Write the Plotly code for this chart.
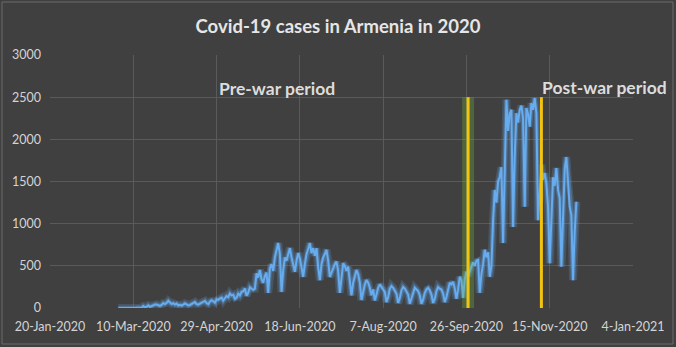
import datetime as dt
import plotly.graph_objects as go

# Daily new COVID-19 cases in Armenia, 1 Mar – 1 Dec 2020
start_date = dt.date(2020, 3, 1)

cases_mar = [1, 0, 0, 0, 0, 0, 0, 0, 0, 0, 0, 2, 5, 4, 3, 22, 8, 14, 32, 12,
             24, 30, 41, 42, 29, 25, 36, 58, 47, 60, 85]
cases_apr = [62, 48, 57, 40, 52, 30, 38, 29, 41, 55, 44, 30, 36, 50, 62, 70,
             46, 40, 52, 66, 72, 84, 58, 46, 76, 92, 80, 64, 104, 96]
cases_may = [112, 124, 88, 114, 142, 128, 172, 150, 158, 108, 124, 170, 148,
             192, 198, 232, 146, 182, 246, 228, 216, 230, 410, 360, 450, 340,
             300, 380, 420, 180, 470]
cases_jun = [520, 440, 600, 680, 770, 640, 190, 450, 600, 560, 640, 710, 600,
             530, 430, 560, 650, 590, 450, 370, 520, 640, 700, 770, 650, 710,
             620, 710, 480, 330]
cases_jul = [520, 600, 640, 690, 560, 370, 420, 480, 520, 550, 440, 180, 360,
             530, 500, 440, 490, 320, 150, 300, 380, 450, 400, 300, 95, 200,
             280, 330, 300, 240, 150]
cases_aug = [220, 90, 160, 240, 280, 250, 230, 190, 70, 130, 230, 260, 240,
             210, 170, 60, 120, 210, 250, 230, 200, 160, 50, 110, 190, 240,
             220, 200, 150, 50, 100]
cases_sep = [180, 220, 240, 210, 160, 60, 110, 200, 250, 230, 220, 170, 70,
             130, 240, 300, 280, 310, 230, 110, 220, 370, 330, 120, 340, 430,
             380, 450, 490, 540]
cases_oct = [500, 560, 570, 180, 400, 520, 690, 600, 660, 370, 500, 1040, 1400,
             1250, 1500, 1550, 1670, 770, 1600, 2470, 2100, 2310, 2350, 960,
             1800, 2310, 2200, 2350, 2400, 2250, 1200]
cases_nov = [2370, 2300, 2150, 2430, 2350, 2490, 2310, 1040, 1350, 1700, 1520,
             1600, 1480, 1200, 530, 1100, 1550, 1450, 1660, 1400, 1300, 490,
             1200, 1650, 1790, 1500, 1200, 1100, 330, 900]
cases_dec = [1260]

daily_cases = (cases_mar + cases_apr + cases_may + cases_jun + cases_jul +
               cases_aug + cases_sep + cases_oct + cases_nov + cases_dec)
dates = [start_date + dt.timedelta(days=i) for i in range(len(daily_cases))]

# War period markers
war_start = "2020-09-27"
war_end = "2020-11-10"
marker_height = [0, 2500]

# Axis settings
x_range = ["2020-01-20", "2021-01-04"]
y_range = [0, 3000]
y_ticks = [0, 500, 1000, 1500, 2000, 2500, 3000]

title_text = "Covid-19 cases in Armenia in 2020"
pre_label = "Pre-war period"
post_label = "Post-war period"

BG = "#404040"
GRID = "#5a5a5a"
TEXT = "#d4d4d4"
FONT = "Lato"

fig = go.Figure()

# soft glow underneath the case line
fig.add_trace(go.Scatter(x=dates, y=daily_cases, mode="lines",
                         line=dict(color="rgba(100,170,240,0.20)", width=8),
                         hoverinfo="skip", showlegend=False))
fig.add_trace(go.Scatter(x=dates, y=daily_cases, mode="lines",
                         line=dict(color="rgba(100,170,240,0.35)", width=4.5),
                         hoverinfo="skip", showlegend=False))
fig.add_trace(go.Scatter(x=dates, y=daily_cases, mode="lines",
                         line=dict(color="#66acee", width=2),
                         name="Daily cases", showlegend=False))

# war start marker with green glow
fig.add_trace(go.Scatter(x=[war_start, war_start], y=marker_height, mode="lines",
                         line=dict(color="rgba(120,190,60,0.30)", width=12),
                         hoverinfo="skip", showlegend=False))
fig.add_trace(go.Scatter(x=[war_start, war_start], y=marker_height, mode="lines",
                         line=dict(color="#f2c40f", width=3),
                         showlegend=False))
# war end marker
fig.add_trace(go.Scatter(x=[war_end, war_end], y=marker_height, mode="lines",
                         line=dict(color="#f2c40f", width=3),
                         showlegend=False))

fig.add_annotation(x="2020-06-04", y=2600, text=pre_label, showarrow=False,
                   font=dict(family=FONT, size=17.5, color="#dcdcdc", weight="bold"))
fig.add_annotation(x="2020-12-18", y=2610, text=post_label, showarrow=False,
                   font=dict(family=FONT, size=17.5, color="#dcdcdc", weight="bold"))

# thin frame around the whole figure
fig.add_shape(type="rect", xref="paper", yref="paper",
              x0=-48 / 583, x1=1 + 40 / 583, y0=-36 / 253, y1=1 + 53 / 253,
              line=dict(color="#6a6a6a", width=1), fillcolor="rgba(0,0,0,0)",
              layer="below")

fig.update_layout(
    width=676, height=347,
    paper_bgcolor=BG, plot_bgcolor=BG,
    margin=dict(l=50, r=43, t=55, b=39),
    title=dict(text=title_text, x=0.5, xanchor="center", y=0.925, yanchor="middle",
               font=dict(family=FONT, size=18.5, color="#e6e6e6", weight="bold")),
    font=dict(family=FONT, color=TEXT),
    showlegend=False,
)
fig.update_xaxes(
    type="date", range=x_range,
    tick0="2020-01-20", dtick=50 * 86400000, tickformat="%-d-%b-%Y",
    showgrid=True, gridcolor=GRID, gridwidth=1,
    zeroline=False, showline=False, ticks="", ticklabelstandoff=9,
    tickfont=dict(family=FONT, size=12.5, color=TEXT),
)
fig.update_yaxes(
    range=y_range, tickvals=y_ticks,
    showgrid=True, gridcolor=GRID, gridwidth=1,
    zeroline=False, showline=False, ticks="", ticklabelstandoff=8,
    tickfont=dict(family=FONT, size=12.5, color=TEXT),
)

fig.write_html("out.html")
